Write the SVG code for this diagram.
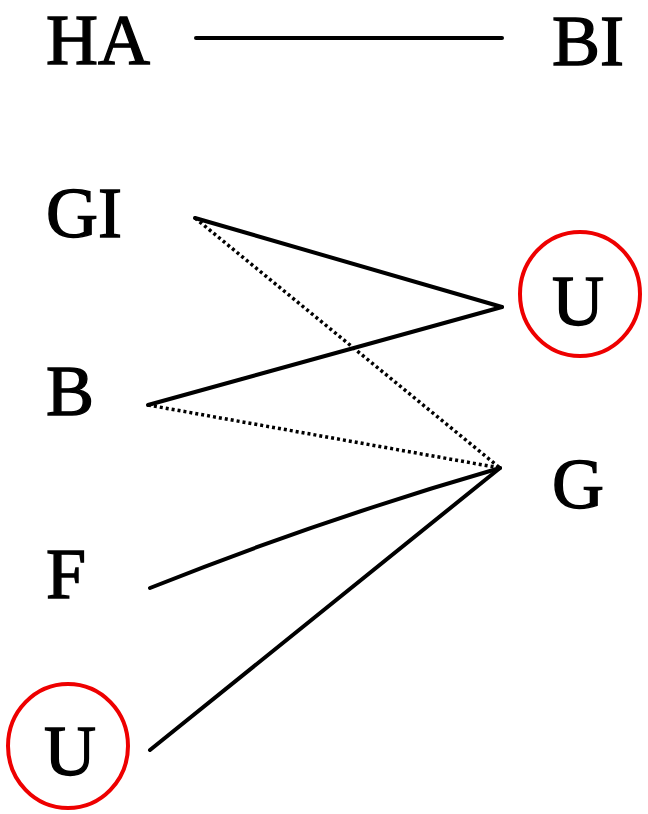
<svg xmlns="http://www.w3.org/2000/svg" width="648" height="814" viewBox="0 0 648 814">
<style>
.lbl{font-family:"Liberation Serif","Times New Roman",serif;font-size:72px;fill:#000;stroke:#000;stroke-width:1.4;}
.solid{stroke:#000;stroke-width:4;fill:none;stroke-linecap:round;}
.dot{stroke:#000;stroke-width:3.5;fill:none;stroke-dasharray:3 3;}
.ring{stroke:#e00;stroke-width:4;fill:none;}
</style>
<rect width="648" height="814" fill="#fff"/>
<g id="connectors">
<line class="solid" x1="196" y1="38" x2="502" y2="38"/>
<line class="solid" x1="195" y1="218" x2="502" y2="307"/>
<line class="solid" x1="148" y1="405" x2="502" y2="307"/>
<line class="dot" x1="195" y1="218" x2="500" y2="468"/>
<line class="dot" x1="148" y1="405" x2="500" y2="468"/>
<path class="solid" d="M150,588 Q320,520 500,468"/>
<line class="solid" x1="150" y1="750" x2="500" y2="468"/>
</g>
<g id="HA"><text class="lbl" x="46" y="64">HA</text></g>
<g id="BI"><text class="lbl" x="552" y="65">BI</text></g>
<g id="GI"><text class="lbl" x="46" y="237">GI</text></g>
<g id="B"><text class="lbl" x="46" y="415">B</text></g>
<g id="F"><text class="lbl" x="46" y="598">F</text></g>
<g id="U2"><ellipse class="ring" cx="68" cy="746" rx="60" ry="62"/><text class="lbl" x="44" y="775">U</text></g>
<g id="U1"><ellipse class="ring" cx="580" cy="294" rx="60" ry="62"/><text class="lbl" x="552" y="325">U</text></g>
<g id="G"><text class="lbl" x="552" y="508">G</text></g>
</svg>
